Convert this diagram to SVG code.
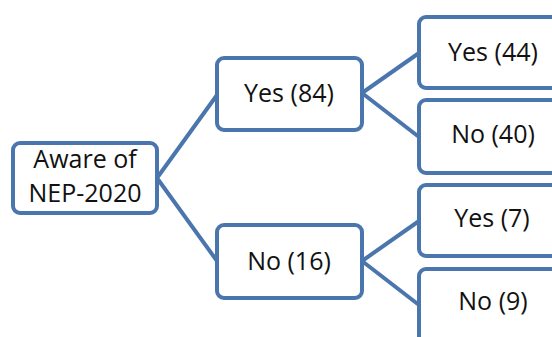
<svg xmlns="http://www.w3.org/2000/svg" width="552" height="337" viewBox="0 0 552 337">
<style>
.box{fill:#fff;stroke:#4a76ad;stroke-width:4}
.lnk{fill:none;stroke:#4a76ad;stroke-width:4}
text{font-family:"Open Sans","Noto Sans",sans-serif;font-size:25px;fill:#111;text-anchor:middle}
</style>
<rect width="552" height="337" fill="#fff"/>
<g id="connectors">
<path class="lnk" d="M157,178 L217,95 M157,178 L217,261"/>
<path class="lnk" d="M362,93 L419,53 M362,93 L419,137"/>
<path class="lnk" d="M362,261 L419,221 M362,261 L419,305"/>
</g>
<g id="root"><rect class="box" x="13" y="143" width="144" height="70" rx="7"/><text x="85" y="168">Aware of</text><text x="85" y="202">NEP-2020</text></g>
<g id="yes84"><rect class="box" x="217" y="58" width="145" height="72" rx="7"/><text x="289" y="102">Yes (84)</text></g>
<g id="no16"><rect class="box" x="217" y="225" width="145" height="73" rx="7"/><text x="289" y="270">No (16)</text></g>
<g id="yes44"><rect class="box" x="419" y="17" width="160" height="71" rx="7"/><text x="493" y="61">Yes (44)</text></g>
<g id="no40"><rect class="box" x="419" y="100" width="160" height="73" rx="7"/><text x="493" y="143">No (40)</text></g>
<g id="yes7"><rect class="box" x="419" y="185" width="160" height="71" rx="7"/><text x="492" y="227">Yes (7)</text></g>
<g id="no9"><rect class="box" x="419" y="269" width="160" height="80" rx="7"/><text x="493" y="310">No (9)</text></g>
</svg>
